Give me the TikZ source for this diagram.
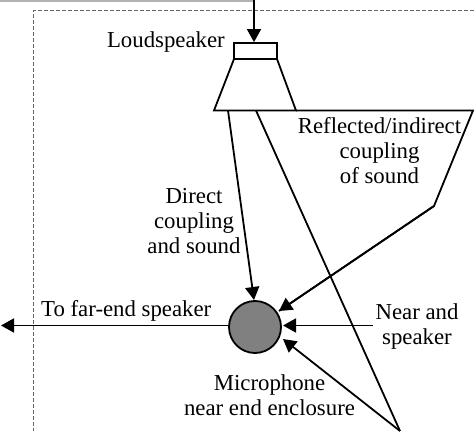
\documentclass[tikz,border=0pt]{standalone}
\usepackage{fontspec}
\setmainfont{Liberation Serif}
\usetikzlibrary{arrows.meta}
\tikzset{
  x=1pt,y=-1pt,
  wire/.style={line width=1.8pt,black},
  arr/.style={wire,-{Triangle[length=13pt,width=14pt]}},
  lbl/.style={inner sep=0pt,align=center,font=\fontsize{22.8}{25}\selectfont,text=black},
  part/.style={draw=black,line width=1.8pt,inner sep=0pt,minimum size=0pt},
}
\begin{document}
\begin{tikzpicture}
\useasboundingbox (0,0) rectangle (474,433);
\fill[black!30] (0,0) rectangle (254,2);
\draw[black!60,line width=1pt,dash pattern=on 4pt off 2pt] (474,11) -- (33,11) -- (33,431);
% loudspeaker
\node[part,minimum width=43pt,minimum height=16pt] (box) at (255.5,51) {};
\draw[wire,line join=miter] (234,59) -- (214,110.5) -- (296,110.5) -- (277,59);
\coordinate (topin) at (254,-2);
\draw[arr] (topin) -- (box.north -| topin);
% microphone
\node[part,circle,fill=black!50,minimum size=52pt] (mic) at (255,327) {};
% reflected paths
\coordinate (horn) at (296,110.5);
\coordinate (wall) at (473,110.5);
\coordinate (bend) at (434,206);
\coordinate (hornA) at (228,110.5);
\coordinate (hornB) at (256,110.5);
\coordinate (floor) at (400,431);
\coordinate (nearsrc) at (373,325.5);
\coordinate (farout) at (1,325.5);
\coordinate (micNE) at (279,311);
\coordinate (micE) at (283,325.5);
\coordinate (micSE) at (283,339);
\draw[wire,line join=miter] (horn) -- (wall) -- (bend) -- (micNE);
\draw[arr] (bend) -- (micNE);
\draw[arr] (hornA) -- (254,300);
\draw[arr] (nearsrc) -- (micE);
\draw[wire] (hornB) -- (floor);
\draw[arr] (floor) -- (micSE);
\draw[arr] (mic.west |- farout) -- (farout);
% labels
\node[lbl,anchor=east] (l1) at (225,42) {Loudspeaker};
\node[lbl] (l2) at (379.5,151) {Reflected/indirect\\coupling\\of sound};
\node[lbl] (l3) at (194,221) {Direct\\coupling\\and sound};
\node[lbl,anchor=west] (l4) at (41,311) {To far-end speaker};
\node[lbl] (l5) at (417,327) {Near and\\speaker};
\node[lbl] (l6) at (269.5,395) {Microphone\\near end enclosure};
\end{tikzpicture}
\end{document}
